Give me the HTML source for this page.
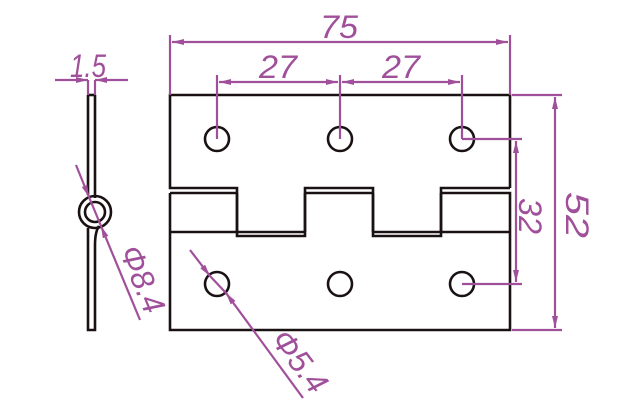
<!DOCTYPE html>
<html><head><meta charset="utf-8"><style>
html,body{margin:0;padding:0;background:#fff;}
svg{display:block;}
text{font-family:"Liberation Sans",sans-serif;font-style:italic;fill:#a0509a;font-size:32px;}
</style></head><body>
<svg width="628" height="419" viewBox="0 0 628 419" xmlns="http://www.w3.org/2000/svg">
<defs>
<marker id="a" viewBox="0 0 12 6" refX="12" refY="3" markerWidth="12" markerHeight="6" markerUnits="userSpaceOnUse" orient="auto-start-reverse">
<path d="M0,0 L12,3 L0,6 Z" fill="#a0509a"/>
</marker>
</defs>
<g fill="none" stroke="#1a1212" stroke-width="2.6">
<path d="M510,188 V95 H170 V188 H237 V236 H305 V188 H373 V236 H441 V188 H510"/>
<path d="M170,193 V330 H510 V193 H441 M170,193 H237 M305,193 H373 M237,232 H305 M373,232 H441 M170,232 H237 M441,232 H510"/>
<path d="M237,193 V232 M305,193 V232 M373,193 V232 M441,193 V232"/>
<circle cx="217" cy="139" r="12"/><circle cx="340" cy="139" r="12"/><circle cx="462" cy="139" r="12"/>
<circle cx="217" cy="284" r="12"/><circle cx="340" cy="284" r="12"/><circle cx="462" cy="284" r="12"/>
<path d="M88,95 V195 M95,95 V198"/>
<path d="M88,95 H95"/>
<circle cx="95" cy="212" r="16"/>
<circle cx="95" cy="212" r="10"/>
<path d="M88,228 Q88,236 88,245 V330 H95 V245 Q95,232 99,226"/>
</g>
<g stroke="#a0509a" stroke-width="2.2" fill="none">
<path d="M170,35 V95 M510,35 V95"/>
<path d="M172,42 H508" marker-start="url(#a)" marker-end="url(#a)"/>
<path d="M217,75 V139 M340,75 V139 M462,75 V139"/>
<path d="M219,82 H338" marker-start="url(#a)" marker-end="url(#a)"/>
<path d="M342,82 H460" marker-start="url(#a)" marker-end="url(#a)"/>
<path d="M512,95 H562 M512,330 H562"/>
<path d="M555,97 V328" marker-start="url(#a)" marker-end="url(#a)"/>
<path d="M462,139 H522 M462,284 H522"/>
<path d="M516,141 V282" marker-start="url(#a)" marker-end="url(#a)"/>
<path d="M55,80 H88" marker-end="url(#a)"/>
<path d="M128,80 H95" marker-end="url(#a)"/>
<path d="M88,80 V95 M95,80 V95"/>
<path d="M76,165 L89,197" marker-end="url(#a)"/>
<path d="M140,320 L101,226" marker-end="url(#a)"/>
<path d="M89,197 L101,226"/>
<path d="M190,250 L210,276" marker-end="url(#a)"/>
<path d="M303,398 L226,293" marker-end="url(#a)"/>
<path d="M210,276 L226,293"/>
</g>
<text x="320" y="38" textLength="38" lengthAdjust="spacingAndGlyphs">75</text>
<text x="259" y="78" textLength="38" lengthAdjust="spacingAndGlyphs">27</text>
<text x="382" y="78" textLength="38" lengthAdjust="spacingAndGlyphs">27</text>
<text x="70" y="77" textLength="36" lengthAdjust="spacingAndGlyphs">1.5</text>
<text transform="translate(566,192) rotate(90)" textLength="46" lengthAdjust="spacingAndGlyphs">52</text>
<text transform="translate(519,198) rotate(90)" textLength="36" lengthAdjust="spacingAndGlyphs">32</text>
<text transform="translate(119,251) rotate(67.6)" textLength="70" lengthAdjust="spacingAndGlyphs">Φ8.4</text>
<text transform="translate(270,340) rotate(52.6)" textLength="70" lengthAdjust="spacingAndGlyphs">Φ5.4</text>
</svg>
</body></html>
